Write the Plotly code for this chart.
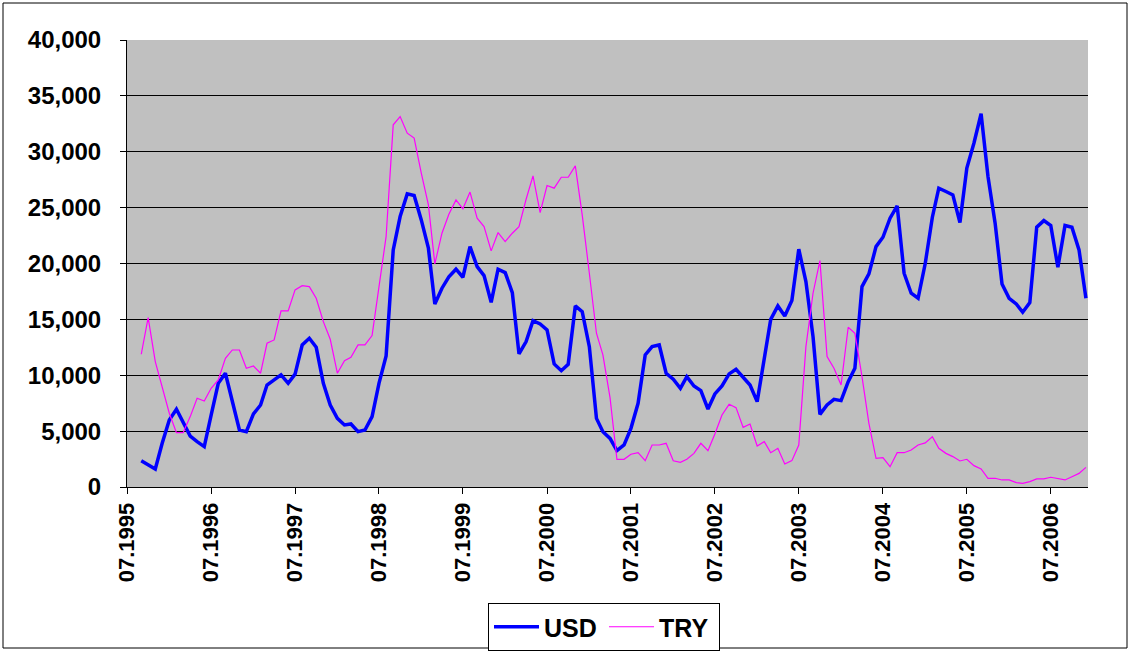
import pandas as pd
import plotly.graph_objects as go

# Monthly data, Sep 1995 .. Dec 2006
start_month = "1995-09-01"
n_months = 136

usd = [2350, 2000, 1610, 3910, 6000, 6960, 5750, 4560, 4060, 3610,
       6440, 9280, 10180, 7790, 5100, 4950, 6540, 7340, 9130, 9580,
       10030, 9280, 10100, 12710, 13310, 12500, 9280, 7340, 6140, 5550,
       5640, 4950, 5100, 6300, 9280, 11730, 21220, 24200, 26230, 26080,
       23900, 21370, 16380, 17790, 18800, 19490, 18770, 21510, 19720, 18920,
       16530, 19490, 19190, 17400, 11910, 13010, 14890, 14590, 14060, 11010,
       10410, 10980, 16200, 15690, 12560, 6140, 4950, 4350, 3250, 3760,
       5250, 7490, 11820, 12560, 12710, 10180, 9640, 8830, 9880, 9040,
       8620, 6980, 8330, 9040, 10120, 10540, 9790, 9130, 7640, 11370,
       15000, 16200, 15310, 16680, 21280, 18380, 13460, 6500, 7340, 7850,
       7730, 9430, 10620, 17930, 19070, 21510, 22350, 24050, 25160, 19130,
       17340, 16890, 20000, 24140, 26740, 26440, 26140, 23670, 28540, 30780,
       33400, 27780, 23610, 18170, 16890, 16380, 15640, 16500, 23250, 23840,
       23400, 19670, 23400, 23250, 21220, 16890]

tr = [11880, 15160, 11220, 8980, 6600, 4860, 4860, 6300, 7940, 7700,
      8830, 9580, 11520, 12260, 12260, 10620, 10830, 10180, 12860, 13160,
      15760, 15760, 17640, 18020, 17930, 16890, 14800, 13220, 10180, 11310,
      11610, 12710, 12710, 13550, 17930, 22410, 32410, 33150, 31660, 31220,
      28090, 25250, 19960, 22710, 24400, 25690, 24890, 26390, 24050, 23300,
      21130, 22770, 21960, 22710, 23300, 25750, 27840, 24560, 26980, 26740,
      27720, 27720, 28740, 24350, 19130, 13760, 11820, 8000, 2480, 2480,
      2930, 3070, 2350, 3760, 3760, 3910, 2350, 2210, 2480, 3010,
      3910, 3250, 4740, 6450, 7400, 7100, 5340, 5640, 3670, 4060,
      3070, 3460, 2060, 2360, 3760, 12560, 17340, 20260, 11670, 10620,
      9130, 14300, 13760, 9880, 5700, 2570, 2630, 1820, 3070, 3070,
      3310, 3760, 3950, 4500, 3460, 3010, 2720, 2330, 2480, 1910,
      1610, 780, 780, 630, 630, 390, 330, 480, 720, 720,
      870, 720, 630, 920, 1220, 1760]

tick_dates = ["1995-07-01", "1996-07-01", "1997-07-01", "1998-07-01",
              "1999-07-01", "2000-07-01", "2001-07-01", "2002-07-01",
              "2003-07-01", "2004-07-01", "2005-07-01", "2006-07-01"]
tick_labels = ["07.1995", "07.1996", "07.1997", "07.1998", "07.1999",
               "07.2000", "07.2001", "07.2002", "07.2003", "07.2004",
               "07.2005", "07.2006"]

months = pd.date_range(start_month, periods=n_months, freq="MS")

FONT = "Liberation Sans, Arial, sans-serif"

fig = go.Figure()
fig.add_trace(go.Scatter(x=months, y=usd, mode="lines", name="USD",
                         line=dict(color="#0000FF", width=3.5)))
fig.add_trace(go.Scatter(x=months, y=tr, mode="lines", name="TRY",
                         line=dict(color="#FF00FF", width=1.2)))

W, H = 1131, 652
L, R, T, B = 127, 43, 40, 165
pw, ph = W - L - R, H - T - B

def px_x(p):
    return (p - L) / pw

def px_y(p):
    return (H - B - p) / ph

fig.update_layout(
    width=W, height=H, autosize=False,
    margin=dict(l=L, r=R, t=T, b=B, autoexpand=False),
    paper_bgcolor="white",
    plot_bgcolor="#C0C0C0",
    font=dict(family=FONT, color="black"),
    showlegend=True,
    legend=dict(orientation="h",
                xref="container", yref="container",
                x=604 / W, xanchor="center",
                y=1 - 603 / H, yanchor="top",
                bgcolor="white", bordercolor="black", borderwidth=1,
                font=dict(family=FONT, size=25, weight="bold", color="black"),
                itemwidth=45, entrywidth=55, entrywidthmode="pixels"),
    xaxis=dict(
        range=["1995-07-01", "2006-12-10"],
        tickmode="array", tickvals=tick_dates, ticktext=tick_labels,
        tickangle=-90,
        tickfont=dict(family=FONT, size=22, weight="bold", color="black"),
        ticks="outside", ticklen=6, tickcolor="black",
        showline=True, linecolor="black", linewidth=1,
        showgrid=False, zeroline=False, automargin=False,
    ),
    yaxis=dict(
        range=[0, 40000], dtick=5000, tick0=0,
        tickformat=",d",
        tickfont=dict(family=FONT, size=24, weight="bold", color="black"),
        ticks="outside", ticklen=6, tickcolor="black",
        ticklabelstandoff=14,
        showline=True, linecolor="black", linewidth=1,
        showgrid=True, gridcolor="black", gridwidth=1,
        zeroline=False, automargin=False,
    ),
    shapes=[dict(type="rect", xref="paper", yref="paper",
                 x0=px_x(3), x1=px_x(1127), y0=px_y(648), y1=px_y(3),
                 line=dict(color="black", width=1), fillcolor="rgba(0,0,0,0)",
                 layer="below")],
)

fig.write_html("out.html",
               config={"displayModeBar": False, "responsive": False},
               post_script="document.body.style.margin='0';document.body.style.padding='0';")
